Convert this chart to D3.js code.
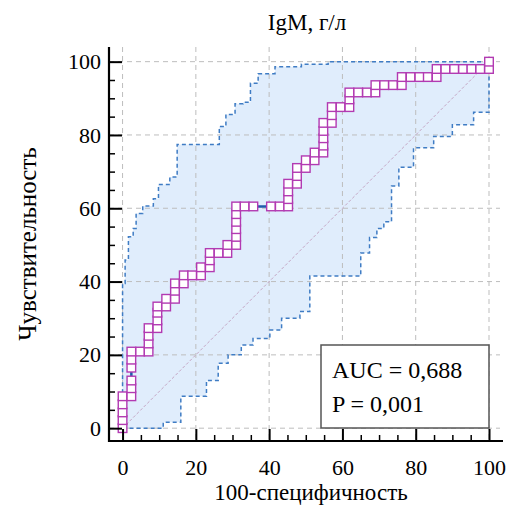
<!DOCTYPE html>
<html>
<head>
<meta charset="utf-8">
<script src="https://cdn.jsdelivr.net/npm/d3@7"></script>
<style>
  body { margin:0; background:#fff; }
  text { font-family:"Liberation Serif","Times New Roman",serif; fill:#000; }
</style>
</head>
<body>
<div id="chart"></div>
<script>
// ROC curve: 100-specificity vs sensitivity
const titleText = "IgM, г/л";
const xTitle = "100-специфичность";
const yTitle = "Чувствительность";
const statLines = ["AUC = 0,688", "P = 0,001"];

const majorTicks = [0, 20, 40, 60, 80, 100];
const minorTicks = [5, 10, 15, 25, 30, 35, 45, 50, 55, 65, 70, 75, 85, 90, 95];

// criterion points (100-specificity, sensitivity)
const fpr = [
  0, 0, 0, 0, 0,
  2.4, 2.4, 2.4, 2.4, 2.4, 2.4,
  4.8, 7.1, 7.1, 7.1, 7.1,
  9.5, 9.5, 9.5, 9.5,
  11.9, 11.9, 14.3, 14.3, 14.3,
  16.7, 16.7, 19.0, 21.4, 21.4,
  23.8, 23.8, 23.8, 26.2, 28.6, 28.6,
  31.0, 31.0, 31.0, 31.0, 31.0, 31.0,
  33.3, 35.7, 40.5, 42.9, 45.2, 45.2, 45.2, 45.2,
  47.6, 47.6, 47.6, 50.0, 50.0, 52.4, 52.4, 54.8, 54.8, 54.8, 54.8, 54.8,
  57.1, 57.1, 57.1, 59.5, 61.9, 61.9, 61.9, 64.3, 66.7, 69.0, 69.0, 71.4, 73.8,
  76.2, 76.2, 78.6, 81.0, 83.3, 85.7, 85.7, 88.1, 90.5, 92.9, 95.2, 97.6, 100, 100
];
const sens = [
  0, 2.2, 4.3, 6.5, 8.7,
  8.7, 10.9, 13.0, 16.5, 18.7, 20.9,
  20.9, 20.9, 23.1, 25.2, 27.3,
  27.3, 29.4, 31.5, 33.2,
  33.2, 35.3, 35.3, 37.5, 39.5,
  39.5, 41.7, 41.7, 41.7, 43.9,
  43.9, 45.8, 47.8, 47.8, 47.8, 50.0,
  50.0, 52.2, 54.3, 56.3, 58.4, 60.5,
  60.5, 60.5, 60.5, 60.5, 60.5, 62.5, 64.6, 66.7,
  66.7, 68.8, 71.0, 71.0, 73.1, 73.1, 75.2, 75.2, 77.1, 79.1, 81.1, 83.3,
  83.3, 85.4, 87.6, 87.6, 87.6, 89.7, 91.6, 91.6, 91.6, 91.6, 93.6, 93.6, 93.6,
  93.6, 95.8, 95.8, 95.8, 95.8, 95.8, 98.0, 98.0, 98.0, 98.0, 98.0, 98.0, 98.0, 100
];

// 95% confidence band edges
const upperX = [0, 0, 0.7, 0.7, 1.6, 1.6, 2.9, 2.9, 3.7, 3.7, 5.5, 5.5, 8.4, 8.4, 9.8, 9.8,
  12.9, 12.9, 14.9, 14.9, 26.4, 26.4, 28.2, 28.2, 30.7, 30.7, 32.9, 32.9, 34.9, 34.9,
  37.0, 37.0, 41.6, 41.6, 48.8, 48.8, 56.1, 56.1, 100];
const upperY = [0, 39.5, 39.5, 45.9, 45.9, 52.2, 52.2, 54.5, 54.5, 58.6, 58.6, 60.6, 60.6, 62.6, 62.6, 66.5,
  66.5, 68.5, 68.5, 77.4, 77.4, 82.3, 82.3, 85.6, 85.6, 88.5, 88.5, 88.9, 88.9, 94.1,
  94.1, 96.7, 96.7, 98.6, 98.6, 99.3, 99.3, 100, 100];
const lowerX = [0, 11.1, 11.1, 15.9, 15.9, 22.9, 22.9, 26.1, 26.1, 28.8, 28.8, 32.4, 32.4,
  35.6, 35.6, 40.2, 40.2, 43.4, 43.4, 48.4, 48.4, 51.1, 51.1, 65.0, 65.0, 67.4, 67.4,
  69.4, 69.4, 71.3, 71.3, 73.4, 73.4, 75.4, 75.4, 79.4, 79.4, 84.9, 84.9, 90.0, 90.0,
  95.8, 95.8, 100, 100];
const lowerY = [0, 0, 1.6, 1.6, 8.7, 8.7, 13.0, 13.0, 17.7, 17.7, 20.0, 20.0, 22.7,
  22.7, 24.5, 24.5, 26.8, 26.8, 30.0, 30.0, 31.8, 31.8, 41.5, 41.5, 47.8, 47.8, 52.0,
  52.0, 54.5, 54.5, 56.3, 56.3, 66.1, 66.1, 71.2, 71.2, 76.5, 76.5, 79.6, 79.6, 82.8,
  82.8, 86.2, 86.2, 100];

const totalW = 508, totalH = 520;
const plotL = 109, plotR = 500, plotT = 47, plotB = 441;
const serif = "'Liberation Serif','Times New Roman',serif";

const svg = d3.select("#chart").append("svg")
  .attr("width", totalW).attr("height", totalH);

const x = d3.scaleLinear().domain([-3.7, 103]).range([plotL, plotR]);
const y = d3.scaleLinear().domain([-3.5, 104]).range([plotB, plotT]);

// confidence band
const upper = upperX.map((v, i) => [v, upperY[i]]);
const lower = lowerX.map((v, i) => [v, lowerY[i]]);
const line = d3.line().x(d => x(d[0])).y(d => y(d[1]));
svg.append("path")
  .attr("d", line(upper.concat(lower.slice().reverse())) + "Z")
  .attr("fill", "#e0edfc").attr("stroke", "none");

// grid
svg.append("g").selectAll("line").data(majorTicks).enter().append("line")
  .attr("x1", d => x(d)).attr("x2", d => x(d)).attr("y1", plotT).attr("y2", plotB)
  .attr("stroke", "#bdbdbd").attr("stroke-dasharray", "5,4");
svg.append("g").selectAll("line").data(majorTicks).enter().append("line")
  .attr("y1", d => y(d)).attr("y2", d => y(d)).attr("x1", plotL).attr("x2", plotR)
  .attr("stroke", "#bdbdbd").attr("stroke-dasharray", "5,4");

// band edges
[upper, lower].forEach(edge => {
  svg.append("path").attr("d", line(edge))
    .attr("fill", "none").attr("stroke", "#3f7cc4").attr("stroke-width", 1.5)
    .attr("stroke-dasharray", "4,3");
});

// reference diagonal
svg.append("line")
  .attr("x1", x(0)).attr("y1", y(0)).attr("x2", x(100)).attr("y2", y(100))
  .attr("stroke", "#c4a6c4").attr("stroke-width", 1).attr("stroke-dasharray", "3,2");

// roc curve + markers
const pts = fpr.map((v, i) => [v, sens[i]]);
svg.append("path").attr("d", line(pts))
  .attr("fill", "none").attr("stroke", "#1f5bab").attr("stroke-width", 2.5);
const sq = 8.6;
svg.append("g").selectAll("rect").data(pts).enter().append("rect")
  .attr("x", d => x(d[0]) - sq / 2).attr("y", d => y(d[1]) - sq / 2)
  .attr("width", sq).attr("height", sq)
  .attr("fill", "#fff").attr("stroke", "#b23ab2").attr("stroke-width", 1.4);

// axes: minor then major ticks, ticks point inward
const styleAxis = g => {
  g.attr("font-family", serif).attr("font-size", 22);
  g.select(".domain").remove();
  g.selectAll("line").attr("stroke", "#000");
  g.selectAll("text").style("font-size", "22px").style("font-family", serif);
};
svg.append("g").attr("transform", `translate(${plotL},0)`)
  .call(d3.axisLeft(y).tickValues(minorTicks).tickSize(-6).tickFormat(""))
  .call(styleAxis).selectAll("line").attr("stroke-width", 1.5);
svg.append("g").attr("transform", `translate(${plotL},0)`)
  .call(d3.axisLeft(y).tickValues(majorTicks).tickSize(-13).tickPadding(8))
  .call(styleAxis).selectAll("line").attr("stroke-width", 2);
svg.append("g").attr("transform", `translate(0,${plotB})`)
  .call(d3.axisBottom(x).tickValues(minorTicks).tickSize(-6).tickFormat(""))
  .call(styleAxis).selectAll("line").attr("stroke-width", 1.5);
svg.append("g").attr("transform", `translate(0,${plotB})`)
  .call(d3.axisBottom(x).tickValues(majorTicks).tickSize(-12).tickPadding(18))
  .call(styleAxis).selectAll("line").attr("stroke-width", 2);

svg.append("line").attr("x1", plotL).attr("x2", plotL).attr("y1", plotT).attr("y2", plotB + 1)
  .attr("stroke", "#000").attr("stroke-width", 2.2);
svg.append("line").attr("x1", plotL - 1).attr("x2", plotR + 3).attr("y1", plotB).attr("y2", plotB)
  .attr("stroke", "#000").attr("stroke-width", 2.2);

// titles
svg.append("text").attr("x", 307).attr("y", 30).attr("text-anchor", "middle")
  .style("font-size", "23px").text(titleText);
svg.append("text").attr("x", 311).attr("y", 500).attr("text-anchor", "middle")
  .style("font-size", "23px").text(xTitle);
svg.append("text").attr("transform", "rotate(-90)").attr("x", -244).attr("y", 36)
  .attr("text-anchor", "middle").style("font-size", "25px").text(yTitle);

// stats box
svg.append("rect").attr("x", 321).attr("y", 345).attr("width", 168).attr("height", 83)
  .attr("fill", "#fff").attr("stroke", "#555").attr("stroke-width", 1.5);
statLines.forEach((t, i) => {
  svg.append("text").attr("x", 332).attr("y", 378 + i * 33.5)
    .style("font-size", "24px").text(t);
});
</script>
</body>
</html>
